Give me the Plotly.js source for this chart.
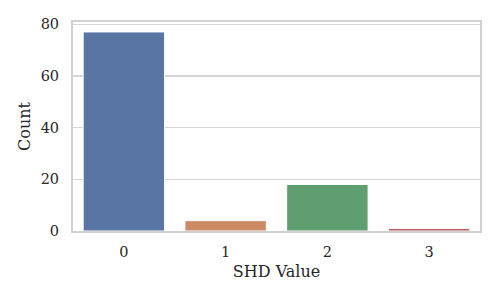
<!DOCTYPE html>
<html>
<head>
<meta charset="utf-8">
<script src="https://cdn.plot.ly/plotly-3.0.1.min.js"></script>
<style>html,body{margin:0;padding:0;background:#fff;}#chart{width:498px;height:299px;}</style>
</head>
<body>
<div id="chart"></div>
<script>
const categories = ["0", "1", "2", "3"];
const counts = [77, 4, 18, 1];
const barColors = ["#5975a4", "#cc8963", "#5f9e6e", "#b55d60"];
const yTicks = [0, 20, 40, 60, 80];
const xTitle = "SHD Value";
const yTitle = "Count";

const font = {family: "DejaVu Serif, serif", size: 14.5, color: "#262626"};
const titleFont = {family: "DejaVu Serif, serif", size: 16, color: "#262626"};

const trace = {
  type: "bar",
  x: categories,
  y: counts,
  width: 0.8,
  marker: {color: barColors, line: {color: "#ffffff", width: 1}},
  hoverinfo: "none"
};

const layout = {
  width: 498, height: 299,
  margin: {l: 73, r: 18, t: 22, b: 68},
  paper_bgcolor: "#ffffff",
  plot_bgcolor: "#ffffff",
  font: font,
  showlegend: false,
  xaxis: {
    type: "category",
    range: [-0.5, 3.5],
    showgrid: false,
    zeroline: false,
    showline: true, mirror: true,
    linecolor: "#d0d0d0", linewidth: 2,
    ticks: "",
    ticklabelstandoff: 7,
    tickfont: font,
    title: {text: xTitle, font: titleFont, standoff: 6}
  },
  yaxis: {
    range: [0, 80.85],
    tickvals: yTicks,
    ticktext: yTicks.map(String),
    showgrid: true, gridcolor: "#d5d5d5", gridwidth: 1.3,
    zeroline: false,
    showline: true, mirror: true,
    linecolor: "#d0d0d0", linewidth: 2,
    ticks: "",
    ticklabelstandoff: 9,
    tickfont: font,
    title: {text: yTitle, font: titleFont, standoff: 6}
  }
};

Plotly.newPlot("chart", [trace], layout, {displayModeBar: false, staticPlot: true});
</script>
</body>
</html>
